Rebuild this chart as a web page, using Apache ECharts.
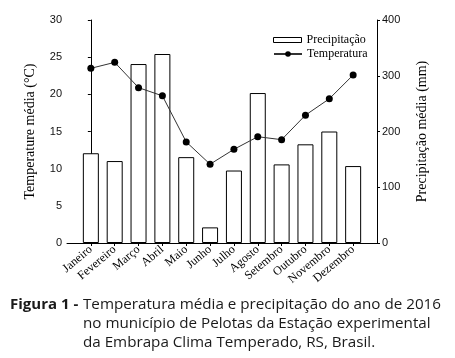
<!DOCTYPE html>
<html lang="pt">
<head>
    <meta charset="UTF-8">
    <title>Figura 1</title>
    <script type="text/javascript" src="https://cdn.jsdelivr.net/npm/echarts@6/dist/echarts.min.js"></script>
    <style>
        *{ margin:0; padding:0; }
        #main { width:455px; height:358px; background:#fff; }
    </style>
</head>
<body>
<div id="main"></div>
<script type="text/javascript">
    // dados
    var meses = ['Janeiro', 'Fevereiro', 'Março', 'Abril', 'Maio', 'Junho',
                 'Julho', 'Agosto', 'Setembro', 'Outubro', 'Novembro', 'Dezembro'];
    var precipitacao = [161, 147, 321, 339, 154, 28, 130, 269, 141, 177, 200, 138];
    var temperatura = [23.5, 24.3, 20.9, 19.8, 13.6, 10.6, 12.6, 14.3, 13.9, 17.2, 19.4, 22.6];
    var ticksTemp = [0, 5, 10, 15, 20, 25, 30];
    var ticksPrec = [0, 100, 200, 300, 400];
    var legenda = ['Precipitação', 'Temperatura'];
    var legendaFig = ['Temperatura média e precipitação do ano de 2016',
                      'no município de Pelotas da Estação experimental',
                      'da Embrapa Clima Temperado, RS, Brasil.'];

    var serif = '"Liberation Serif", "Times New Roman", serif';
    var sans = '"Liberation Sans", Arial, sans-serif';
    var idx = meses.map(function (m, i) { return i; });

    var myChart = echarts.init(document.getElementById('main'));

    var eixoY = function (ticks, name, gap) {
        return {
            type: 'value',
            min: ticks[0],
            max: ticks[ticks.length - 1],
            interval: ticks[1] - ticks[0],
            name: name,
            nameLocation: 'middle',
            nameRotate: 90,
            nameGap: gap,
            nameTextStyle: { fontFamily: serif, fontSize: 14, color: '#000' },
            axisLine: { show: true, lineStyle: { color: '#000', width: 1 } },
            axisTick: { show: true, length: 3, lineStyle: { color: '#000' } },
            axisLabel: { fontFamily: sans, fontSize: 11, color: '#111', margin: 5 },
            splitLine: { show: false }
        };
    };

    var option = {
        animation: false,
        grid: { left: 67, right: 78, top: 20, bottom: 115 },
        legend: [
            {
                data: [{
                    name: legenda[0], icon: 'rect',
                    itemStyle: { color: '#fff', borderColor: '#000', borderWidth: 1 }
                }],
                left: 268, top: 29,
                itemWidth: 28, itemHeight: 5, itemGap: 6,
                textStyle: { fontFamily: serif, fontSize: 12, color: '#000' }
            },
            {
                data: [legenda[1]],
                left: 268, top: 43,
                itemWidth: 28, itemHeight: 7, itemGap: 6,
                textStyle: { fontFamily: serif, fontSize: 12, color: '#000' }
            }
        ],
        xAxis: {
            type: 'value',
            min: -1,
            max: meses.length,
            interval: 1,
            axisLine: { lineStyle: { color: '#000', width: 1 } },
            axisTick: { show: true, length: 3, customValues: idx, lineStyle: { color: '#000' } },
            axisLabel: {
                customValues: idx,
                rotate: 40,
                margin: 5,
                fontFamily: serif,
                fontSize: 12,
                color: '#000',
                formatter: function (v) { return meses[v] || ''; }
            },
            splitLine: { show: false }
        },
        yAxis: [
            eixoY(ticksTemp, 'Temperature média (°C)', 30),
            eixoY(ticksPrec, 'Precipitação média (mm)', 38)
        ],
        series: [
            {
                name: legenda[0],
                type: 'bar',
                yAxisIndex: 1,
                barWidth: 16,
                itemStyle: { color: '#fff', borderColor: '#000', borderWidth: 1 },
                data: precipitacao.map(function (v, i) { return [i, v]; })
            },
            {
                name: legenda[1],
                type: 'line',
                yAxisIndex: 0,
                symbol: 'circle',
                symbolSize: 7,
                itemStyle: { color: '#000' },
                lineStyle: { color: '#333', width: 1 },
                data: temperatura.map(function (v, i) { return [i, v]; })
            }
        ],
        graphic: [
            {
                type: 'text', left: 10, top: 297,
                style: { text: 'Figura 1 -', font: 'bold 15px "Open Sans"', fill: '#1a1a1a' }
            },
            {
                type: 'text', left: 83, top: 297,
                style: { text: legendaFig[0], font: '15.2px "Open Sans"', fill: '#1a1a1a' }
            },
            {
                type: 'text', left: 83, top: 316,
                style: { text: legendaFig[1], font: '15.2px "Open Sans"', fill: '#1a1a1a' }
            },
            {
                type: 'text', left: 83, top: 335,
                style: { text: legendaFig[2], font: '15.2px "Open Sans"', fill: '#1a1a1a' }
            }
        ]
    };

    myChart.setOption(option);
</script>
</body>
</html>
